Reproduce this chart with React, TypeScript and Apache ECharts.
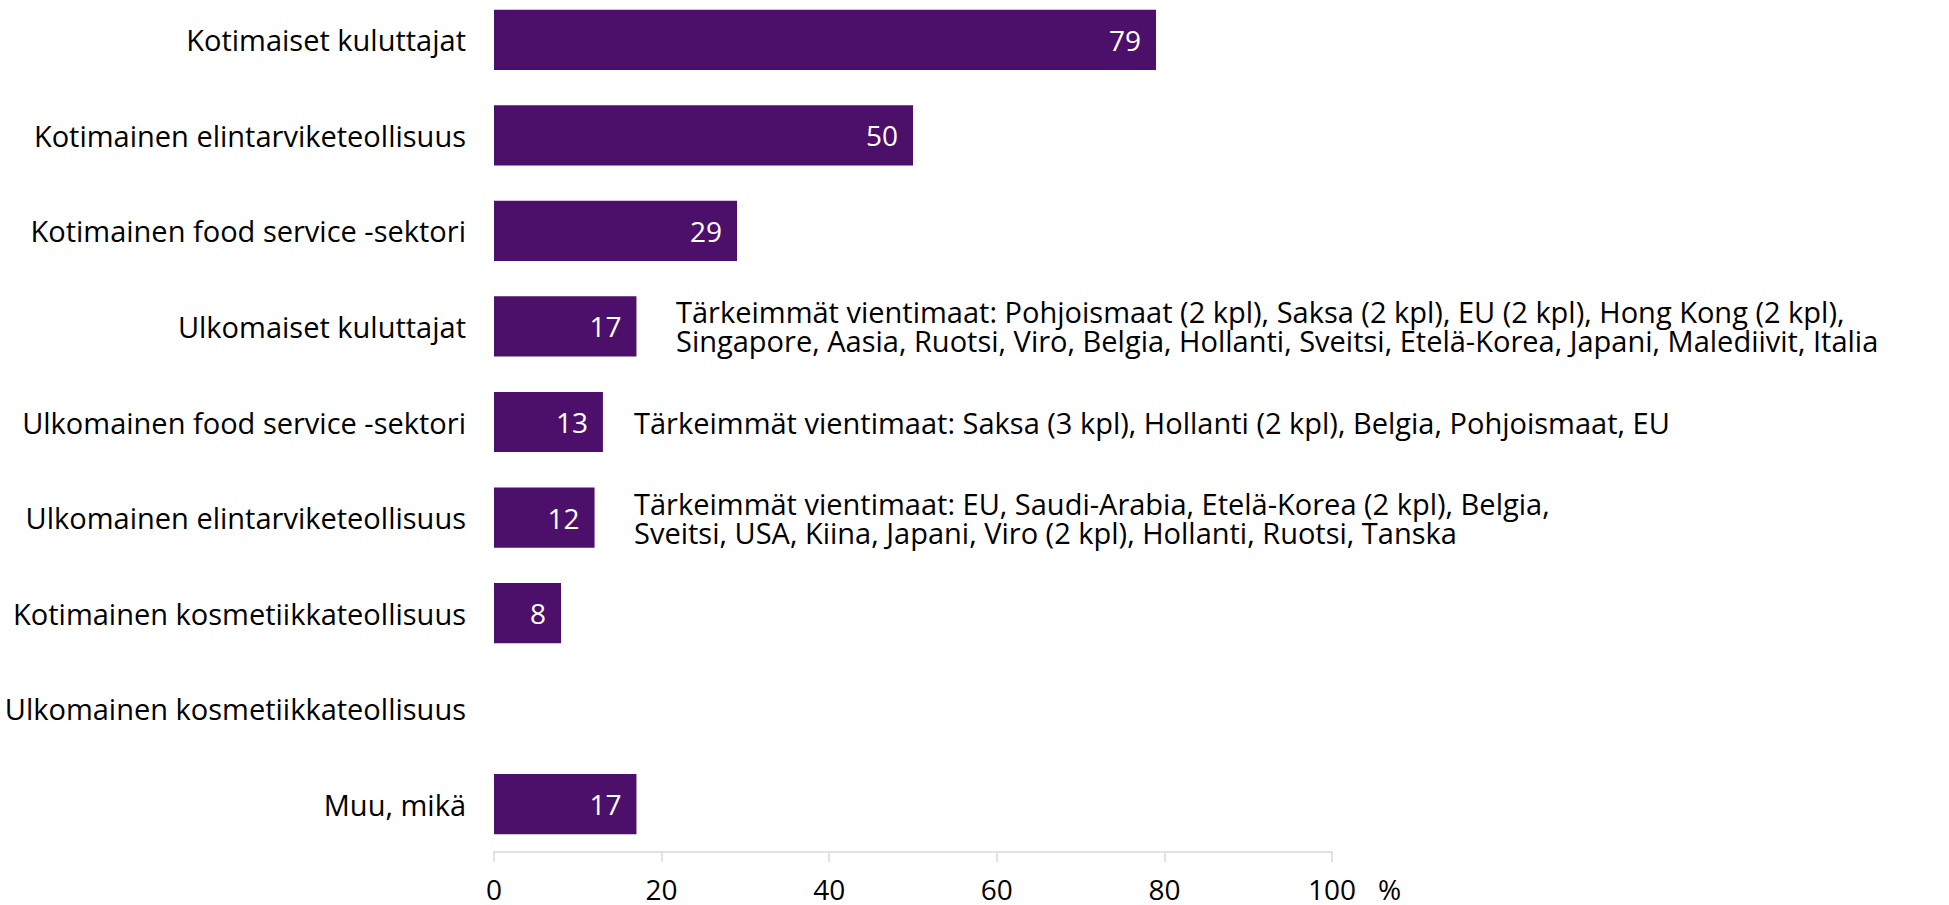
import React, { useEffect, useRef } from "react";
import * as echarts from "echarts";

const categories = [
  "Kotimaiset kuluttajat",
  "Kotimainen elintarviketeollisuus",
  "Kotimainen food service -sektori",
  "Ulkomaiset kuluttajat",
  "Ulkomainen food service -sektori",
  "Ulkomainen elintarviketeollisuus",
  "Kotimainen kosmetiikkateollisuus",
  "Ulkomainen kosmetiikkateollisuus",
  "Muu, mikä",
];

const values: (number | null)[] = [79, 50, 29, 17, 13, 12, 8, null, 17];

const axisMin = 0;
const axisMax = 100;
const axisInterval = 20;
const axisUnit = "%";

const annotationCategories = [
  "Ulkomaiset kuluttajat",
  "Ulkomainen food service -sektori",
  "Ulkomainen elintarviketeollisuus",
];
const annotationTexts = [
  "Tärkeimmät vientimaat: Pohjoismaat (2 kpl), Saksa (2 kpl), EU (2 kpl), Hong Kong (2 kpl),\nSingapore, Aasia, Ruotsi, Viro, Belgia, Hollanti, Sveitsi, Etelä-Korea, Japani, Malediivit, Italia",
  "Tärkeimmät vientimaat: Saksa (3 kpl), Hollanti (2 kpl), Belgia, Pohjoismaat, EU",
  "Tärkeimmät vientimaat: EU, Saudi-Arabia, Etelä-Korea (2 kpl), Belgia,\nSveitsi, USA, Kiina, Japani, Viro (2 kpl), Hollanti, Ruotsi, Tanska",
];
// pixel left edges of the annotation texts (layout, not data)
const annotationLeft = [676, 634, 634];

const FONT = "Open Sans";
const BAR_COLOR = "#4c106b";
const SHIFT = 8; // chart div starts 8px above the page top

export default function App() {
  const ref = useRef<HTMLDivElement>(null);

  useEffect(() => {
    if (!ref.current) return;
    const chart = echarts.init(ref.current, undefined, { renderer: "svg" });
    const option: any = {
      animation: false,
      grid: {
        left: 494,
        right: 617,
        top: 0,
        height: 860,
        containLabel: false,
        outerBoundsMode: "none",
      },
      xAxis: {
        type: "value",
        min: axisMin,
        max: axisMax,
        interval: axisInterval,
        axisLine: { show: true, lineStyle: { color: "#d9d9d9", width: 1.5 } },
        axisTick: { show: true, length: 10, lineStyle: { color: "#d9d9d9", width: 1.5 } },
        splitLine: { show: false },
        axisLabel: {
          color: "#000",
          fontFamily: FONT,
          fontSize: 28,
          lineHeight: 28,
          margin: 23,
        },
      },
      yAxis: {
        type: "category",
        inverse: true,
        data: categories,
        axisLine: { show: false },
        axisTick: { show: false },
        axisLabel: {
          color: "#000",
          fontFamily: FONT,
          fontSize: 29,
          margin: 28,
        },
      },
      series: [
        {
          type: "bar",
          data: values,
          barCategoryGap: "37%",
          itemStyle: { color: BAR_COLOR },
          label: {
            show: true,
            position: "insideRight",
            distance: 15,
            color: "#fff",
            fontFamily: FONT,
            fontSize: 28,
            formatter: (p: any) => (p.value == null ? "" : String(p.value)),
          },
        },
      ],
    };
    chart.setOption(option);

    const graphics: any[] = annotationCategories.map((cat, i) => {
      const y = chart.convertToPixel({ yAxisIndex: 0 }, cat) as number;
      return {
        type: "text",
        x: annotationLeft[i],
        y,
        style: {
          text: annotationTexts[i],
          fontFamily: FONT,
          fontSize: 29,
          lineHeight: 29,
          fill: "#000",
          align: "left",
          verticalAlign: "middle",
        },
      };
    });
    const xEnd = chart.convertToPixel({ xAxisIndex: 0 }, axisMax) as number;
    graphics.push({
      type: "text",
      x: xEnd + 46,
      y: 889 + SHIFT,
      style: {
        text: axisUnit,
        fontFamily: FONT,
        fontSize: 28,
        lineHeight: 28,
        fill: "#000",
        align: "left",
        verticalAlign: "middle",
      },
    });
    chart.setOption({ graphic: graphics });

    return () => chart.dispose();
  }, []);

  return (
    <div
      ref={ref}
      style={{ position: "absolute", left: 0, top: -SHIFT, width: 1949, height: 905 + SHIFT }}
    />
  );
}
